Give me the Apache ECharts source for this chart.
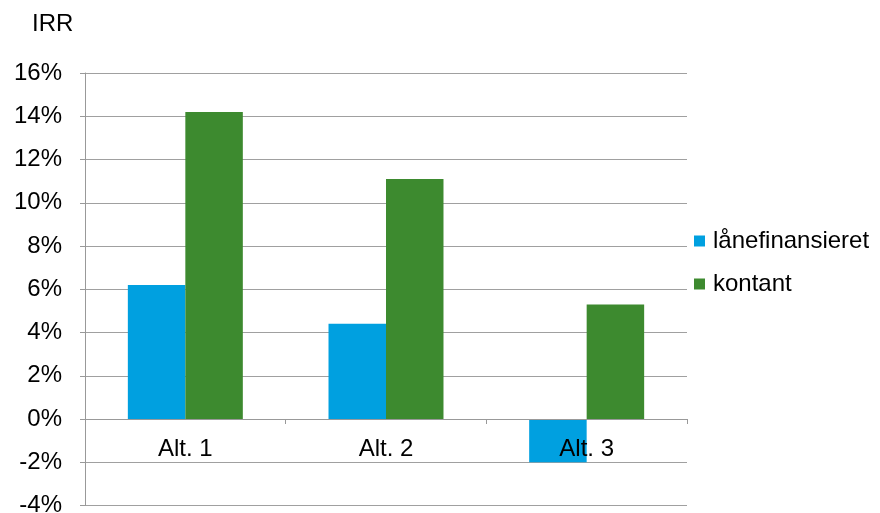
<!DOCTYPE html>
<html>
<head>
<meta charset="utf-8">
<script src="https://cdn.jsdelivr.net/npm/echarts@6/dist/echarts.min.js"></script>
<style>html,body{margin:0;padding:0;background:#fff;}#c{width:880px;height:513px;}</style>
</head>
<body>
<div id="c"></div>
<script>
const categories = ['Alt. 1', 'Alt. 2', 'Alt. 3'];
const seriesNames = ['lånefinansieret', 'kontant'];
const laanefinansieret = [6.2, 4.4, -2.0];
const kontant = [14.2, 11.1, 5.3];
const yTickMin = -4, yTickMax = 16, yTickStep = 2;

const font = 'Liberation Sans, Arial, sans-serif';
const gridTop = 73, gridBottom = 7.5, H = 513;
const plotH = H - gridTop - gridBottom;
const zeroOffset = -plotH * (0 - yTickMin) / (yTickMax - yTickMin);

const chart = echarts.init(document.getElementById('c'), null, {renderer: 'canvas'});
chart.setOption({
  animation: false,
  backgroundColor: '#fff',
  title: {
    text: 'IRR', left: 32, top: 12, padding: 0,
    textStyle: {fontFamily: font, fontSize: 24, fontWeight: 'normal', color: '#000'}
  },
  legend: {
    orient: 'vertical', left: 694, top: 229, padding: 0,
    itemWidth: 11, itemHeight: 11, itemGap: 19,
    icon: 'rect',
    textStyle: {fontFamily: font, fontSize: 24, color: '#000', padding: [0, 0, 0, 3]},
    data: seriesNames
  },
  grid: {left: 85, right: 193, top: gridTop, bottom: gridBottom, containLabel: false, outerBoundsMode: 'none'},
  xAxis: {
    type: 'category', data: categories, z: 10,
    offset: zeroOffset,
    axisLine: {onZero: false, lineStyle: {color: '#999', width: 1}},
    axisTick: {show: true, length: 5, inside: false, alignWithLabel: false, lineStyle: {color: '#999'}},
    axisLabel: {fontFamily: font, fontSize: 24, color: '#000', margin: 18},
    splitLine: {show: false}
  },
  yAxis: {
    type: 'value', min: yTickMin, max: yTickMax, interval: yTickStep,
    axisLine: {show: true, lineStyle: {color: '#999', width: 1}},
    axisTick: {show: true, length: 5, lineStyle: {color: '#999'}},
    axisLabel: {fontFamily: font, fontSize: 24, color: '#000', margin: 23, formatter: '{value}%'},
    splitLine: {show: true, lineStyle: {color: '#a0a0a0', width: 1}}
  },
  series: [
    {name: seriesNames[0], type: 'bar', data: laanefinansieret, itemStyle: {color: '#00A0E0'}, barGap: '0%', barCategoryGap: '42.7%'},
    {name: seriesNames[1], type: 'bar', data: kontant, itemStyle: {color: '#3D8A2F'}, barGap: '0%', barCategoryGap: '42.7%'}
  ]
});
</script>
</body>
</html>
